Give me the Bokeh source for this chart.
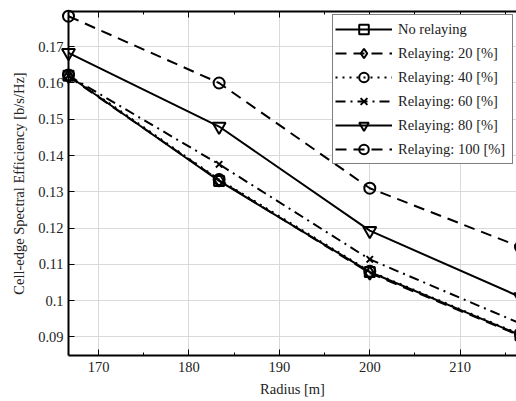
from bokeh.plotting import figure
from bokeh.models import FixedTicker, LinearAxis, Range1d, Legend
from bokeh.embed import file_html
from bokeh.resources import INLINE

# ---- data ----
radius = [166.67, 183.33, 200.0, 216.67]
no_relaying = [0.1620, 0.1330, 0.1079, 0.0905]
relay_20 = [0.1618, 0.1332, 0.1076, 0.0903]
relay_40 = [0.1622, 0.1334, 0.1081, 0.0907]
relay_60 = [0.1620, 0.1376, 0.1114, 0.0937]
relay_80 = [0.1683, 0.1480, 0.1193, 0.1010]
relay_100 = [0.1784, 0.1600, 0.1310, 0.1148]

series_labels = ["No relaying", "Relaying: 20 [%]", "Relaying: 40 [%]",
                 "Relaying: 60 [%]", "Relaying: 80 [%]", "Relaying: 100 [%]"]

x_ticks = [170, 180, 190, 200, 210]
x_minor = [165, 175, 185, 195, 205, 215]
y_ticks = [0.09, 0.10, 0.11, 0.12, 0.13, 0.14, 0.15, 0.16, 0.17, 0.18]
y_tick_labels = ["0.09", "0.1", "0.11", "0.12", "0.13", "0.14", "0.15", "0.16", "0.17", "0.18"]

FONT = "'Liberation Serif'"

p = figure(width=516, height=401, output_backend="svg", toolbar_location=None,
           x_range=Range1d(166.67, 216.23), y_range=Range1d(0.0849, 0.1797),
           min_border_left=68, min_border_right=0, min_border_top=11, min_border_bottom=46)
p.background_fill_color = "white"
p.border_fill_color = "white"
p.outline_line_color = None

for ax in p.xaxis:
    ax.ticker = FixedTicker(ticks=x_ticks, minor_ticks=x_minor)
for ax in p.yaxis:
    ax.ticker = FixedTicker(ticks=y_ticks)
    ax.major_label_overrides = {t: l for t, l in zip(y_ticks, y_tick_labels)}

for ax in list(p.xaxis) + list(p.yaxis):
    ax.axis_line_color = "black"
    ax.axis_line_width = 2
    ax.major_tick_in = 6
    ax.major_tick_out = 0
    ax.minor_tick_in = 3
    ax.minor_tick_out = 0
    ax.major_tick_line_color = "black"
    ax.minor_tick_line_color = "black"
    ax.major_label_text_font = FONT
    ax.major_label_text_font_size = "14.5px"
    ax.major_label_text_color = "#222222"
    ax.axis_label_text_font = FONT
    ax.axis_label_text_font_size = "14.5px"
    ax.axis_label_text_font_style = "normal"
    ax.axis_label_text_color = "#222222"

p.yaxis.minor_tick_line_color = None
p.xaxis.axis_label = "Radius [m]"
p.yaxis.axis_label = "Cell-edge Spectral Efficiency [b/s/Hz]"
p.xaxis.major_label_standoff = 6
p.yaxis.major_label_standoff = 5
p.xaxis.axis_label_standoff = 6
p.yaxis.axis_label_standoff = 8

top = LinearAxis(ticker=FixedTicker(ticks=x_ticks, minor_ticks=x_minor),
                 major_label_overrides={t: "" for t in x_ticks},
                 major_tick_in=6, major_tick_out=0,
                 minor_tick_in=3, minor_tick_out=0, axis_line_width=2,
                 major_label_standoff=0)
p.add_layout(top, "above")

p.grid.grid_line_color = "#d9d9d9"
p.grid.grid_line_width = 1
p.xgrid.ticker = FixedTicker(ticks=x_ticks)
p.ygrid.ticker = FixedTicker(ticks=y_ticks)

styles = [
    (no_relaying, "solid", "square"),
    (relay_20, "11 7", "diamond"),
    (relay_40, "2 5", "circle"),
    (relay_60, "10 5 2 5", "x"),
    (relay_80, "solid", "inverted_triangle"),
    (relay_100, "11 7", "circle"),
]
sizes = {"square": 10, "diamond": 13, "circle": 11, "x": 9, "inverted_triangle": 13}

items = []
for (vals, dash, marker), label in zip(styles, series_labels):
    r1 = p.line(radius, vals, line_color="black", line_width=2, line_dash=dash)
    r2 = p.scatter(radius, vals, marker=marker, size=sizes[marker], line_color="black",
                   line_width=2, fill_alpha=0, level="overlay")
    items.append((label, [r1, r2]))

legend = Legend(items=items, location="top_right")
legend.label_text_font = FONT
legend.label_text_font_size = "14.5px"
legend.label_text_color = "#222222"
legend.glyph_width = 57
legend.glyph_height = 24
legend.label_height = 20
legend.label_width = 112
legend.spacing = 0
legend.label_standoff = 6
legend.padding = 2
legend.margin = 3
legend.border_line_color = "black"
legend.border_line_width = 1.5
legend.background_fill_alpha = 1
p.add_layout(legend, "center")

open("out.html", "w").write(file_html(p, INLINE))
